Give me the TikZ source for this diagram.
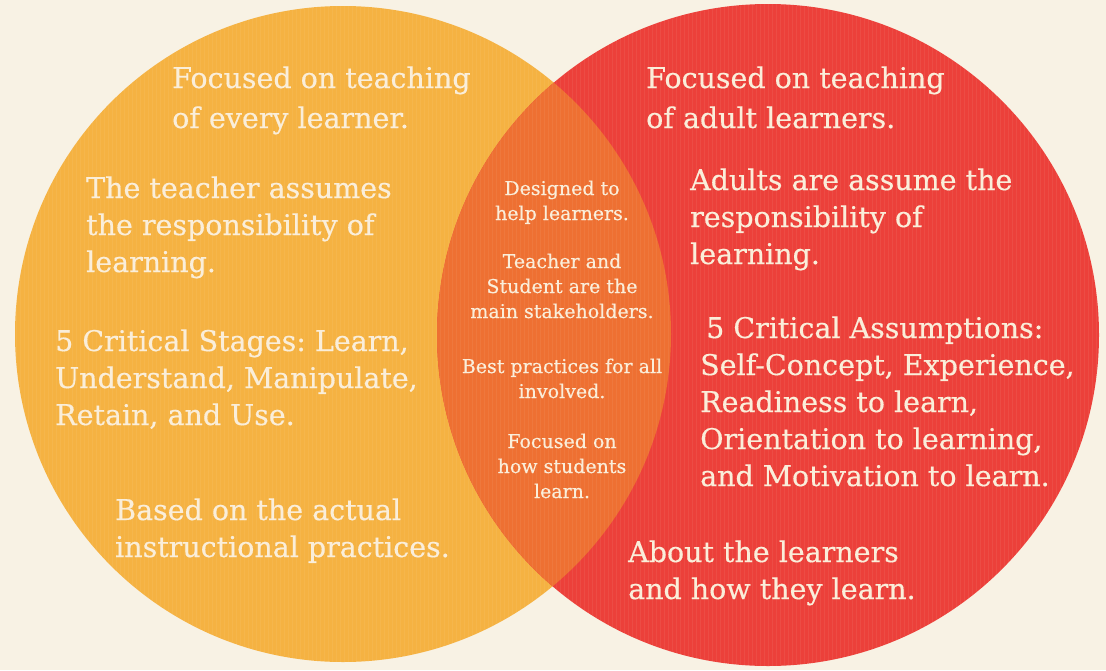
\documentclass[tikz,border=0pt]{standalone}
\usepackage{fontspec}
\setmainfont{DejaVu Serif}[FakeBold=0.45]
\frenchspacing
\definecolor{bg}{RGB}{248,242,228}
\definecolor{yel}{RGB}{245,178,66}
\definecolor{redc}{RGB}{236,64,58}
\definecolor{lens}{RGB}{238,112,50}
\definecolor{txt}{RGB}{250,238,218}
\newcommand{\lblk}[1]{\begin{tabular}[t]{@{}l@{}}#1\end{tabular}}
\newcommand{\cblk}[1]{\begin{tabular}[t]{@{}c@{}}#1\end{tabular}}
\tikzset{
  bigtext/.style={anchor=base west, inner sep=0pt, text=txt, font=\fontsize{28.5}{37}\selectfont},
  smalltext/.style={anchor=base, inner sep=0pt, text=txt, font=\fontsize{19}{25}\selectfont},
  weave/.style={draw=txt, opacity=0.07, line width=0.8pt}
}
\begin{document}
\begin{tikzpicture}[x=1pt,y=-1pt]
\fill[bg] (0,0) rectangle (1106,670);
\useasboundingbox (0,0) rectangle (1106,670);
% circles
\fill[yel] (343,334) circle[radius=328pt];
\fill[redc] (768,335) circle[radius=331pt];
\begin{scope}
  \clip (343,334) circle[radius=328pt];
  \fill[lens] (768,335) circle[radius=331pt];
\end{scope}
% woven texture
\begin{scope}
  \clip (343,334) circle[radius=328pt] (768,335) circle[radius=331pt];
  \draw[weave, step=4] (0,0) grid (1106,670);
\end{scope}
% left circle texts
\node[bigtext] (l1) at (172,88) {\lblk{Focused on teaching\\[3pt]of every learner.}};
\node[bigtext] (l2) at (86,198) {\lblk{The teacher assumes\\the responsibility of\\learning.}};
\node[bigtext] (l3) at (55,351) {\lblk{5 Critical Stages: Learn,\\Understand, Manipulate,\\Retain, and Use.}};
\node[bigtext] (l4) at (115,520) {\lblk{Based on the actual\\instructional practices.}};
% right circle texts
\node[bigtext] (r1) at (646,88) {\lblk{Focused on teaching\\[3pt]of adult learners.}};
\node[bigtext] (r2) at (690,190) {\lblk{Adults are assume the\\responsibility of\\learning.}};
\node[bigtext] (r3) at (700,338) {\lblk{\hspace{6pt}5 Critical Assumptions:\\Self-Concept, Experience,\\Readiness to learn,\\Orientation to learning,\\and Motivation to learn.}};
\node[bigtext] (r4) at (628,562) {\lblk{About the learners\\and how they learn.}};
% intersection texts
\node[smalltext] (c1) at (562,195) {\cblk{Designed to\\help learners.}};
\node[smalltext] (c2) at (562,268) {\cblk{Teacher and\\Student are the\\main stakeholders.}};
\node[smalltext] (c3) at (562,373) {\cblk{Best practices for all\\involved.}};
\node[smalltext] (c4) at (562,448) {\cblk{Focused on\\how students\\learn.}};
\end{tikzpicture}
\end{document}
